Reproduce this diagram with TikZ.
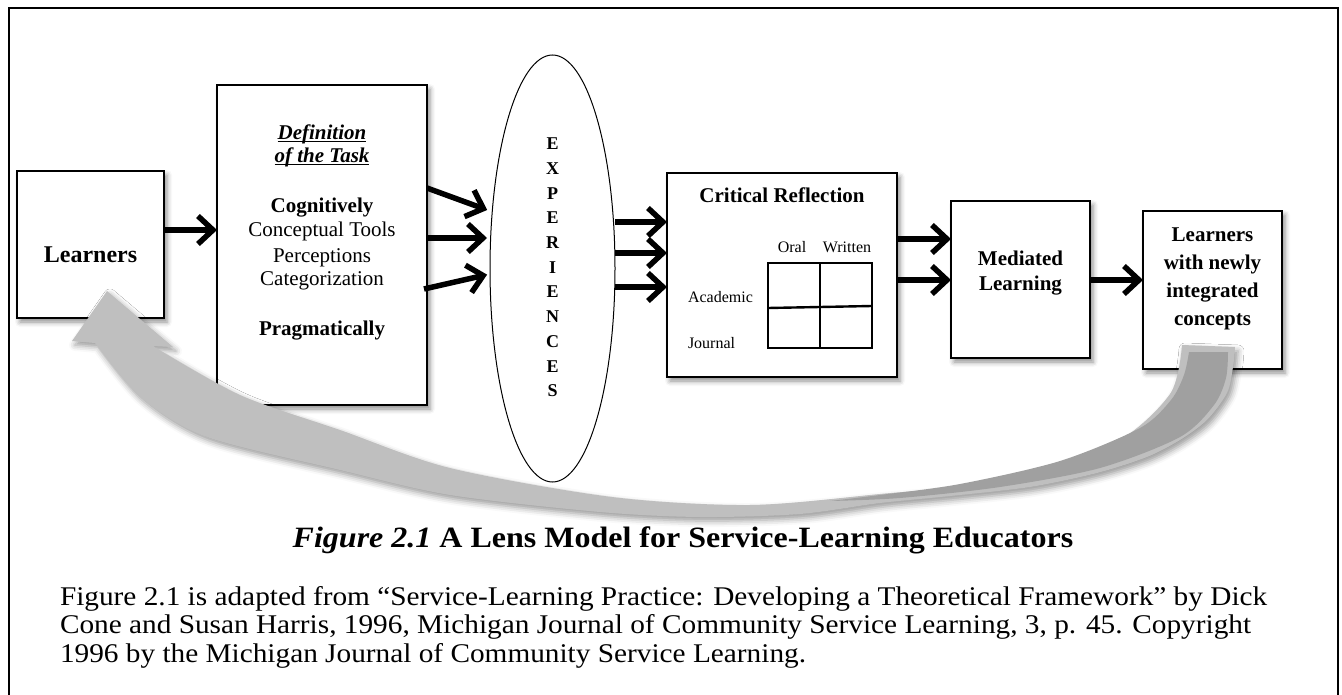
\documentclass[tikz,border=0pt]{standalone}
\usepackage{fontspec}
\setmainfont{Liberation Serif}
\newfontfamily\widefont[FakeStretch=1.085]{Liberation Serif}
\usetikzlibrary{arrows.meta,shapes.geometric,shadows.blur}
\definecolor{lightband}{RGB}{191,191,191}
\definecolor{darkband}{RGB}{160,160,160}
\newcommand\setfs[2]{\fontsize{#1}{#2}\selectfont}
\tikzset{
  box/.style={draw=black, line width=1.3pt, fill=white, inner sep=0pt, outer sep=0pt,
    blur shadow={shadow xshift=3pt, shadow yshift=-4pt, shadow blur radius=5pt, shadow opacity=45}},
  conn/.style={line width=5.5pt, -{Straight Barb[length=15pt,width=28pt]}},
  txt/.style={inner sep=0pt, outer sep=0pt},
}
\begin{document}
\begin{tikzpicture}[x=1pt,y=-1pt]
\useasboundingbox (0,0) rectangle (1342,695);
% frame
\draw[line width=2.5pt] (9,695) -- (9,8) -- (1338,8) -- (1338,695);

% boxes
\node[box, minimum width=147pt, minimum height=147pt] (learn) at (90.5,244.5) {};
\node[box, minimum width=210pt, minimum height=320pt] (def) at (322,245) {};
\node[draw=black, line width=1pt, fill=white, ellipse, minimum width=125pt, minimum height=427pt, inner sep=0pt, outer sep=0pt] (exp) at (552.5,268.5) {};
\node[box, minimum width=230pt, minimum height=204pt] (crit) at (782,275) {};
\node[box, minimum width=139pt, minimum height=157pt] (med) at (1020.5,279.5) {};
\node[box, minimum width=139pt, minimum height=158pt] (newl) at (1212.5,290) {};

% texts
\node[txt, anchor=base, font=\setfs{24}{28}\bfseries] (tlearn) at (90.5,263) {Learners};
\node[txt, anchor=base, font=\setfs{21}{24}\bfseries\itshape] (tdef1) at (322,140) {\underline{\smash{Definition}}};
\node[txt, anchor=base, font=\setfs{21}{24}\bfseries\itshape] (tdef2) at (322,163) {\underline{\smash{of the Task}}};
\node[txt, anchor=base, font=\setfs{21}{24}\bfseries] (tcog) at (322,213) {Cognitively};
\node[txt, anchor=base, font=\setfs{21}{24}] (tcon) at (322,237) {Conceptual Tools};
\node[txt, anchor=base, font=\setfs{21}{24}] (tper) at (322,262) {Perceptions};
\node[txt, anchor=base, font=\setfs{21}{24}] (tcat) at (322,286) {Categorization};
\node[txt, anchor=base, font=\setfs{21}{24}\bfseries] (tpra) at (322,335) {Pragmatically};
\node[txt, anchor=north, align=center, font=\setfs{18}{24.7}\bfseries] (texp) at (552.5,138) {E\\X\\P\\E\\R\\I\\E\\N\\C\\E\\S};
\node[txt, anchor=base, font=\setfs{21}{24}\bfseries] (tcrit) at (782,203) {Critical Reflection};
\node[txt, anchor=base, font=\setfs{16}{19}] (toral) at (792,253) {Oral};
\node[txt, anchor=base, font=\setfs{16}{19}] (twri) at (847,253) {Written};
\node[txt, anchor=base west, font=\setfs{16}{19}] (tacad) at (688,302) {Academic};
\node[txt, anchor=base west, font=\setfs{16}{19}] (tjour) at (688,348) {Journal};
\node[txt, anchor=north, align=center, font=\setfs{21}{25}\bfseries] (tmed) at (1020.5,251) {Mediated\\Learning};
\node[txt, anchor=north, align=center, font=\setfs{21}{28}\bfseries] (tnew) at (1212.5,228) {Learners\\with newly\\integrated\\concepts};

% grid
\draw[line width=2.4pt] (768,263) rectangle (872,348);
\draw[line width=2.4pt] (820,263) -- (820,348);
\draw[line width=2.4pt] (768,308) -- (872,306);

% connectors
\draw[conn] (learn.east |- 0,230) -- (def.west |- 0,230);
\draw[conn, shorten >=3pt] (def.east |- 0,188) -- (exp.west |- 0,211);
\draw[conn, shorten >=3pt] (def.east |- 0,238) -- (exp.west |- 0,238);
\draw[conn, shorten >=3pt] ([xshift=-3pt]def.east |- 0,289) -- (exp.west |- 0,274);
\draw[conn] (exp.east |- 0,222) -- (crit.west |- 0,222);
\draw[conn] (exp.east |- 0,253) -- (crit.west |- 0,253);
\draw[conn] (exp.east |- 0,287) -- (crit.west |- 0,287);
\draw[conn] (crit.east |- 0,239) -- (med.west |- 0,239);
\draw[conn] (crit.east |- 0,280) -- (med.west |- 0,280);
\draw[conn] (med.east |- 0,280) -- (newl.west |- 0,280);

% big curved return arrow
\fill[lightband, blur shadow={shadow xshift=3pt, shadow yshift=-4pt, shadow blur radius=6pt, shadow opacity=40}]
  (107,291) -- (173,347) -- (153,346)
  -- plot[smooth] coordinates {(153,346) (240,395) (340,430) (450,468) (612,497) (750,505) (880,494) (1000,481) (1113,444) (1170,394) (1182,345)}
  -- (1235,347)
  -- plot[smooth] coordinates {(1235,347) (1233,367) (1227,393) (1207,420) (1180,440) (1147,457) (1097,473) (1030,487) (950,496) (880,503) (800,514) (700,517) (600,512) (450,495) (340,470) (207,437) (140,397) (95,343)}
  -- (72,341) -- cycle;
\fill[darkband]
  plot[smooth] coordinates {(1189,352) (1184,375) (1171,400) (1140,428) (1060,461) (960,484) (880,495) (830,501)}
  -- plot[smooth] coordinates {(830,501) (900,498) (1000,487) (1100,468) (1180,437) (1214,405) (1226,378) (1228,352)}
  -- cycle;

% caption
\node[txt, anchor=base, font=\widefont\setfs{29.5}{33}\bfseries] (cap) at (683,547) {\textit{Figure 2.1} A Lens Model for Service-Learning Educators};
\node[txt, anchor=base west, font=\widefont\setfs{27}{28.5}] (src1) at (60,605) {Figure 2.1 is adapted from “Service-Learning Practice: Developing a Theoretical Framework” by Dick};
\node[txt, anchor=base west, font=\widefont\setfs{27}{28.5}] (src2) at (60,633) {Cone and Susan Harris, 1996, Michigan Journal of Community Service Learning, 3, p. 45. Copyright};
\node[txt, anchor=base west, font=\widefont\setfs{27}{28.5}] (src3) at (60,662) {1996 by the Michigan Journal of Community Service Learning.};
\end{tikzpicture}
\end{document}
